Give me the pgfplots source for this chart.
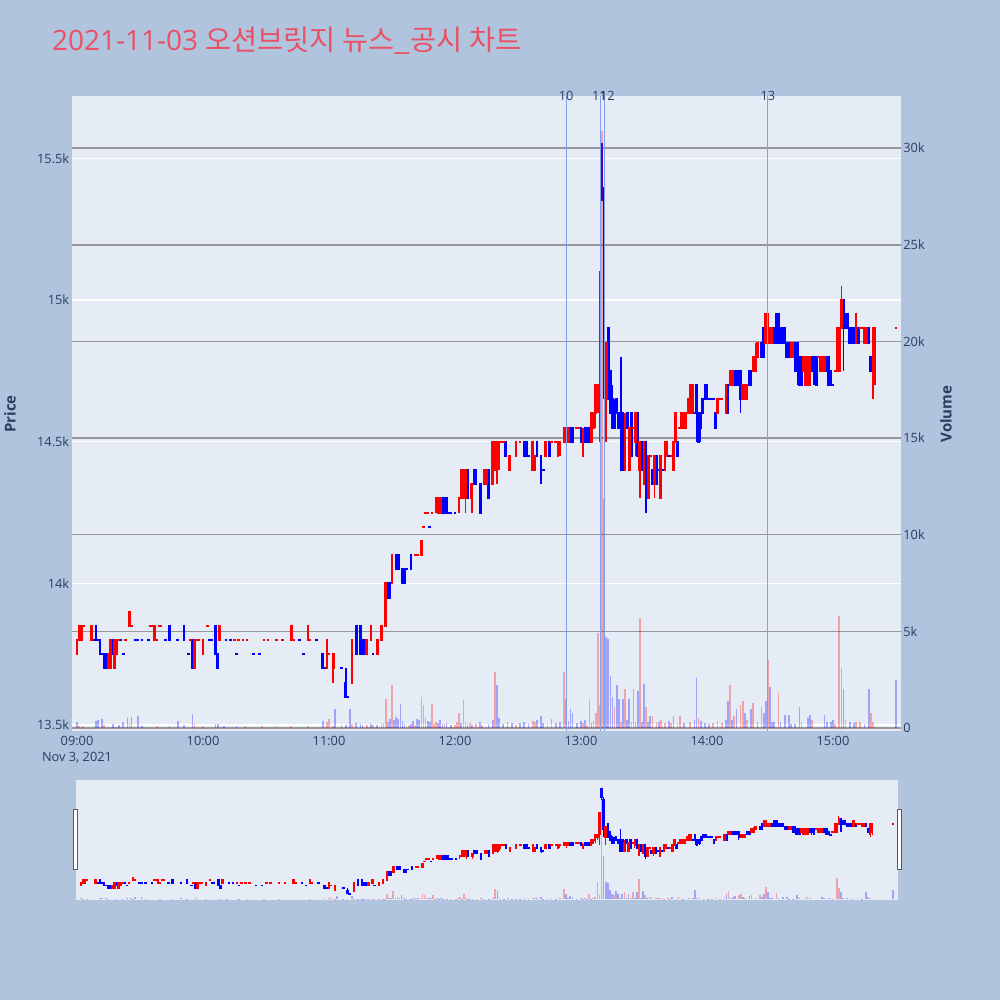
\documentclass[border=0pt]{standalone}
\usepackage{pgfplots}
\pgfplotsset{compat=1.18}
\usepackage{pgfplotstable}
\usepackage{fontspec}
\setmainfont{Open Sans}
\newfontfamily\cjk{Noto Sans CJK KR}
\definecolor{bgc}{RGB}{176,196,222}
\definecolor{plotbg}{RGB}{229,236,246}
\definecolor{tickc}{RGB}{42,63,95}
\definecolor{gridg}{RGB}{150,150,155}
\definecolor{vline}{RGB}{130,160,240}
\definecolor{titlec}{RGB}{235,80,100}
\definecolor{upc}{RGB}{255,0,0}
\definecolor{dnc}{RGB}{0,0,255}

% rising candles (red)
\pgfplotstableread{
m o h l c
0 13750 13800 13750 13800
1 13800 13850 13800 13850
2 13800 13850 13800 13850
3 13850 13850 13850 13850
7 13800 13850 13800 13850
15 13700 13750 13700 13750
16 13700 13800 13700 13800
18 13700 13800 13700 13800
19 13750 13800 13750 13800
20 13800 13800 13800 13800
23 13800 13800 13800 13800
25 13850 13900 13850 13900
26 13850 13850 13850 13850
35 13850 13850 13850 13850
36 13850 13850 13850 13850
37 13800 13850 13800 13850
38 13800 13800 13800 13800
39 13850 13850 13850 13850
40 13850 13850 13850 13850
54 13800 13800 13800 13800
56 13700 13800 13700 13800
57 13800 13800 13800 13800
58 13800 13800 13800 13800
60 13750 13800 13750 13800
62 13850 13850 13850 13850
68 13800 13850 13800 13850
75 13800 13800 13800 13800
77 13800 13800 13800 13800
79 13800 13800 13800 13800
81 13800 13800 13800 13800
89 13800 13800 13800 13800
91 13800 13800 13800 13800
95 13800 13800 13800 13800
98 13800 13800 13800 13800
102 13800 13850 13800 13850
103 13800 13800 13800 13800
110 13800 13850 13800 13850
111 13800 13800 13800 13800
119 13700 13800 13700 13800
120 13750 13750 13750 13750
122 13700 13750 13650 13750
131 13650 13800 13650 13800
138 13750 13800 13750 13800
140 13800 13850 13800 13850
143 13750 13800 13750 13800
145 13800 13850 13800 13850
147 13850 14000 13850 14000
150 14000 14100 14000 14100
161 14100 14100 14100 14100
162 14100 14100 14100 14100
164 14100 14150 14100 14150
165 14200 14200 14200 14200
166 14250 14250 14250 14250
167 14250 14250 14250 14250
169 14250 14250 14250 14250
171 14300 14300 14250 14300
172 14250 14300 14250 14300
173 14250 14300 14250 14300
182 14300 14300 14250 14300
183 14300 14400 14300 14400
184 14300 14400 14300 14400
185 14300 14400 14250 14400
188 14300 14350 14250 14350
194 14350 14400 14350 14400
195 14350 14400 14350 14400
198 14350 14500 14350 14500
199 14400 14500 14400 14500
200 14400 14500 14350 14500
201 14450 14500 14400 14500
202 14500 14500 14500 14500
203 14500 14500 14500 14500
206 14400 14450 14400 14450
209 14450 14500 14450 14500
211 14500 14500 14500 14500
217 14400 14500 14400 14500
218 14400 14450 14400 14450
223 14450 14500 14450 14500
226 14500 14500 14500 14500
228 14500 14500 14500 14500
229 14450 14500 14450 14500
230 14500 14500 14450 14500
232 14500 14550 14500 14550
233 14500 14550 14450 14550
234 14500 14550 14500 14550
238 14550 14550 14550 14550
239 14550 14550 14550 14550
241 14450 14550 14450 14500
245 14500 14600 14500 14600
246 14550 14600 14550 14600
247 14600 14700 14550 14700
248 14650 14700 14600 14700
249 14700 15100 14500 15100
252 14650 14850 14500 14850
261 14400 14600 14400 14550
263 14400 14550 14400 14550
265 14550 14550 14550 14550
266 14500 14600 14450 14600
268 14400 14500 14300 14500
270 14350 14500 14350 14500
272 14300 14450 14300 14450
273 14450 14450 14450 14450
275 14350 14450 14300 14450
278 14300 14450 14300 14450
280 14400 14500 14400 14500
281 14450 14500 14450 14500
283 14450 14450 14450 14450
284 14400 14500 14400 14500
285 14500 14600 14500 14600
287 14550 14550 14550 14550
288 14550 14600 14550 14600
289 14550 14600 14550 14600
290 14550 14600 14550 14600
291 14600 14650 14600 14650
292 14600 14700 14600 14700
293 14600 14700 14600 14700
305 14600 14650 14600 14650
306 14650 14650 14650 14650
307 14650 14650 14650 14650
309 14600 14700 14600 14700
311 14700 14750 14700 14750
312 14700 14750 14700 14750
317 14650 14700 14650 14700
318 14650 14700 14650 14700
319 14650 14700 14650 14700
322 14750 14800 14750 14800
323 14750 14850 14750 14800
324 14800 14850 14800 14850
328 14850 14950 14850 14950
329 14850 14950 14850 14950
330 14850 14900 14850 14900
331 14850 14900 14850 14900
340 14800 14850 14800 14850
341 14800 14850 14800 14850
346 14750 14800 14750 14800
347 14700 14800 14700 14800
348 14700 14800 14700 14800
349 14700 14800 14700 14800
353 14800 14800 14800 14800
354 14750 14800 14750 14800
355 14750 14800 14750 14800
356 14750 14800 14750 14800
361 14750 14750 14750 14750
362 14750 14900 14750 14900
363 14750 14900 14750 14900
364 14900 15050 14900 15000
371 14850 14950 14850 14950
373 14900 14900 14900 14900
374 14900 14900 14900 14900
375 14850 14900 14850 14900
376 14850 14900 14850 14900
379 14700 14900 14650 14900
380 14750 14900 14700 14900
390 14900 14900 14900 14900
}\upt

% falling candles (blue)
\pgfplotstableread{
m o h l c
8 13800 13800 13800 13800
9 13850 13850 13800 13800
10 13800 13800 13800 13800
11 13800 13800 13750 13750
12 13750 13750 13750 13750
13 13750 13750 13700 13700
14 13750 13750 13700 13700
17 13800 13800 13750 13750
21 13800 13800 13800 13800
22 13750 13750 13750 13750
28 13800 13800 13800 13800
29 13800 13800 13800 13800
31 13800 13800 13800 13800
34 13800 13800 13800 13800
42 13800 13800 13800 13800
44 13850 13850 13800 13800
48 13800 13800 13800 13800
51 13850 13850 13800 13800
53 13750 13750 13750 13750
55 13800 13800 13700 13700
63 13800 13800 13800 13800
64 13800 13800 13800 13800
66 13850 13850 13750 13750
67 13750 13750 13700 13700
71 13800 13800 13800 13800
73 13800 13800 13800 13800
76 13750 13750 13750 13750
84 13750 13750 13750 13750
87 13750 13750 13750 13750
106 13800 13800 13800 13800
108 13750 13750 13750 13750
114 13800 13800 13800 13800
117 13750 13750 13700 13700
118 13700 13700 13700 13700
126 13700 13700 13700 13700
128 13650 13700 13600 13600
129 13600 13600 13600 13600
133 13850 13850 13750 13750
135 13850 13850 13750 13750
136 13800 13800 13750 13750
137 13800 13800 13750 13750
141 13750 13750 13750 13750
148 14000 14000 13950 13950
149 14000 14000 13950 13950
152 14100 14100 14050 14050
153 14100 14100 14050 14050
155 14050 14050 14000 14000
156 14050 14050 14000 14000
157 14050 14050 14050 14050
159 14100 14100 14050 14050
168 14200 14200 14200 14200
174 14300 14300 14250 14250
175 14300 14300 14250 14250
176 14300 14300 14250 14250
177 14250 14250 14250 14250
178 14250 14250 14250 14250
180 14250 14250 14250 14250
186 14400 14400 14300 14300
189 14400 14400 14350 14350
190 14400 14400 14350 14350
192 14350 14350 14250 14250
196 14400 14400 14300 14300
204 14500 14500 14450 14450
213 14500 14500 14450 14450
214 14500 14500 14450 14450
215 14450 14450 14450 14450
219 14500 14500 14450 14450
221 14450 14450 14350 14400
222 14400 14400 14400 14400
225 14500 14500 14450 14450
235 14550 14550 14500 14500
236 14550 14550 14500 14500
240 14550 14550 14500 14500
242 14550 14550 14500 14500
243 14550 14550 14500 14500
244 14550 14550 14500 14500
250 15550 15550 15350 15400
251 15350 15400 14650 14800
253 14900 14900 14650 14650
254 14750 14750 14600 14600
255 14650 14700 14550 14550
256 14600 14650 14550 14550
257 14650 14650 14600 14600
258 14600 14600 14550 14550
259 14600 14800 14400 14400
260 14600 14600 14400 14400
262 14600 14600 14550 14550
264 14600 14600 14450 14450
267 14600 14600 14450 14450
269 14500 14500 14400 14400
271 14500 14500 14250 14300
274 14400 14400 14350 14350
276 14450 14450 14350 14350
277 14400 14400 14400 14400
279 14400 14400 14400 14400
282 14450 14450 14450 14450
286 14500 14500 14450 14450
294 14600 14600 14600 14600
295 14700 14700 14500 14600
296 14600 14600 14500 14500
297 14600 14600 14500 14550
298 14650 14650 14600 14600
299 14700 14700 14650 14650
300 14700 14700 14650 14650
301 14650 14650 14650 14650
302 14650 14650 14650 14650
303 14650 14650 14650 14650
304 14600 14600 14550 14550
310 14700 14700 14600 14600
313 14750 14750 14700 14700
314 14750 14750 14700 14700
315 14750 14750 14700 14700
316 14750 14750 14600 14650
320 14750 14750 14700 14700
321 14750 14750 14700 14700
326 14850 14850 14800 14800
327 14900 14900 14800 14800
332 14900 14900 14850 14850
333 14950 14950 14850 14850
334 14950 14950 14850 14850
335 14900 14900 14850 14850
336 14900 14900 14850 14850
337 14900 14900 14850 14850
338 14850 14850 14800 14800
339 14850 14850 14800 14800
342 14850 14850 14750 14750
343 14850 14850 14700 14750
344 14800 14800 14700 14700
345 14800 14800 14700 14700
350 14800 14800 14750 14750
351 14800 14800 14700 14750
352 14800 14800 14700 14700
357 14800 14800 14750 14750
358 14800 14800 14700 14700
359 14750 14750 14700 14700
360 14700 14700 14700 14700
365 15000 15000 14750 14900
366 14950 14950 14900 14900
367 14950 14950 14900 14900
368 14900 14900 14850 14850
369 14900 14900 14850 14850
370 14900 14900 14850 14850
372 14900 14900 14850 14850
377 14900 14900 14850 14850
378 14800 14800 14750 14750
}\dnt

\pgfplotstableread{
m v
1 100
3 100
13 150
25 250
38 100
56 250
60 100
80 80
88 80
95 80
102 100
110 80
119 300
120 450
122 100
131 200
138 150
141 150
145 200
146 250
147 1500
150 2200
158 150
161 150
164 1600
165 1200
166 550
169 1250
170 200
171 300
175 200
180 150
181 300
182 800
184 1450
185 300
187 250
190 200
193 150
199 2900
209 150
217 350
218 300
224 200
226 450
232 2900
241 250
243 150
244 1500
246 350
247 800
248 4900
249 1200
250 30900
256 1100
259 300
261 2000
264 300
265 2000
268 5700
271 1100
274 600
276 300
278 400
280 250
283 250
286 250
287 600
292 300
296 500
303 250
305 350
307 250
311 2200
313 600
316 1200
317 1400
319 400
322 1300
326 1100
329 3500
334 1800
345 300
350 400
361 200
363 5800
364 3100
366 400
371 300
373 300
378 800
379 300
}\upv

\pgfplotstableread{
m v
0 300
9 350
10 400
12 450
17 200
20 150
22 300
24 500
26 550
29 600
31 100
44 100
48 350
51 150
55 750
66 200
67 200
70 100
76 100
117 350
123 1000
126 150
128 150
130 1000
133 250
135 200
136 150
140 200
143 150
148 300
149 450
151 400
152 550
153 450
154 1250
155 350
156 200
159 200
160 350
162 450
163 400
167 350
168 300
172 250
173 400
174 200
176 250
178 150
183 250
186 200
188 150
192 300
196 200
198 400
200 2200
201 500
203 200
205 300
207 250
211 250
213 300
215 200
219 400
221 600
222 250
228 250
230 300
233 1500
234 350
235 1000
236 800
238 250
240 350
242 400
245 250
251 11900
252 4700
253 4600
254 2700
255 1600
257 2200
258 1500
260 1500
262 400
263 1500
266 300
267 1900
269 300
270 2300
272 300
273 600
277 300
282 350
284 600
289 250
294 400
295 2600
297 350
299 250
301 200
309 400
310 1400
312 400
314 1000
318 800
321 1000
324 300
327 800
328 1400
330 2100
331 300
332 300
335 300
337 650
339 650
340 200
342 200
344 1100
348 500
349 650
356 650
357 300
359 300
360 400
365 2000
368 300
370 250
375 200
377 2000
390 2500
}\dnv

\pgfplotsset{
  mainpos/.style={at={(36pt,134.5pt)}, anchor=south west, width=414.5pt, height=317.5pt},
  slidepos/.style={at={(38pt,50pt)}, anchor=south west, width=411pt, height=60pt},
  common/.style={scale only axis, xmin=-2.4, xmax=392.4, axis line style={draw=none},
    scaled ticks=false,
    major tick length=0pt, tick label style={font=\fontsize{6.4}{7.5}\selectfont, text=tickc}},
  pax/.style={ymin=13479, ymax=15720},
  vax/.style={ymin=-155, ymax=32700},
}

% #1 colour, #2 table, #3 body pad, #4 body width, #5 wick width, #6 pt per won / 2
\newcommand{\candleset}[6]{%
  % wicks: a vertical-bar mark whose half length is set from (high-low)
  \addplot[scatter, only marks, mark=|, forget plot,
    scatter/use mapped color={draw=#1, fill=#1},
    visualization depends on={\thisrow{h}-\thisrow{l} \as \rng},
    scatter/@pre marker code/.append style={/tikz/mark size={#6*\rng}},
    mark options={line width=#5, solid}]
    table[x=m, y expr={(\thisrow{h}+\thisrow{l})/2}] {#2};
  % bodies: error bars from open to close
  \addplot[color=#1, draw=none, mark=none, forget plot,
    error bars/.cd, y dir=both, y explicit, error mark=none,
    error bar style={color=#1, solid, line width=#4}]
    table[x=m, y expr={(\thisrow{o}+\thisrow{c})/2}, y error expr={abs(\thisrow{c}-\thisrow{o})/2+#3}] {#2};
}
\newcommand{\volset}[2]{%
  \addplot[ycomb, draw=#1, draw opacity=0.3, line width=0.85pt, mark=none, forget plot]
    table[x=m, y=v] {#2};
}

\begin{document}
\begin{tikzpicture}
\fill[bgc] (0,0) rectangle (500pt,500pt);

% ---------- main chart: background + volume grid
\begin{axis}[common, mainpos, vax,
  axis background/.style={fill=plotbg},
  xtick=\empty,
  ytick={0,5000,10000,15000,20000,25000,30000},
  yticklabels={0,5k,10k,15k,20k,25k,30k},
  yticklabel pos=right,
  yticklabel style={anchor=west, inner sep=1pt},
  ymajorgrids, grid style={draw=gridg, line width=0.75pt}]
\end{axis}

% ---------- main chart: price
\begin{axis}[common, mainpos, pax,
  ytick={13500,14000,14500,15000,15500},
  yticklabels={13.5k,14k,14.5k,15k,15.5k},
  yticklabel style={anchor=east, inner sep=1.2pt},
  xtick={0,60,120,180,240,300,360},
  xticklabels={09:00,10:00,11:00,12:00,13:00,14:00,15:00},
  xticklabel style={anchor=north, inner sep=1.5pt, yshift=-1pt},
  ymajorgrids, grid style={draw=white, line width=0.6pt}]
\candleset{dnc}{\dnt}{3.5}{1.35pt}{0.75pt}{0.07084}
\candleset{upc}{\upt}{3.5}{1.35pt}{0.75pt}{0.07084}
\end{axis}

% ---------- main chart: volume bars, marker lines and their labels
\begin{axis}[common, mainpos, vax, hide axis, clip=false]
\volset{upc}{\upv}
\volset{dnc}{\dnv}
\addplot[vline, line width=0.5pt] coordinates {(232.9,-155) (232.9,32700)};
\addplot[vline, line width=0.5pt] coordinates {(249.5,-155) (249.5,32700)};
\addplot[vline, line width=0.5pt] coordinates {(251.4,-155) (251.4,32700)};
\addplot[vline, line width=0.5pt] coordinates {(329,-155) (329,32700)};
\node[font=\fontsize{6.4}{7.5}\selectfont, text=tickc] at (axis cs:232.9,32700) {10};
\node[font=\fontsize{6.4}{7.5}\selectfont, text=tickc] at (axis cs:248.8,32700) {11};
\node[font=\fontsize{6.4}{7.5}\selectfont, text=tickc] at (axis cs:252.6,32700) {12};
\node[font=\fontsize{6.4}{7.5}\selectfont, text=tickc] at (axis cs:329,32700) {13};
\end{axis}

% ---------- range slider
\begin{axis}[common, slidepos, pax, axis background/.style={fill=plotbg},
  xtick=\empty, ytick=\empty]
\candleset{dnc}{\dnt}{16}{1.2pt}{0.55pt}{0.013387}
\candleset{upc}{\upt}{16}{1.2pt}{0.55pt}{0.013387}
\end{axis}
\begin{axis}[common, slidepos, vax, hide axis]
\volset{upc}{\upv}
\volset{dnc}{\dnv}
\end{axis}
\draw[fill=white, draw=black!65, line width=0.5pt] (36.5pt,65pt) rectangle (38.5pt,95pt);
\draw[fill=white, draw=black!65, line width=0.5pt] (448.5pt,65pt) rectangle (450.5pt,95pt);

% ---------- texts
\node[anchor=base west, inner sep=0, text=titlec] at (25.8pt,474.6pt)
  {\fontsize{14}{16}\selectfont 2021-11-03 {\cjk\fontsize{14.2}{16}\selectfont 오션브릿지 뉴스\_공시 차트}};
\node[rotate=90, text=tickc, font=\bfseries\fontsize{7.5}{9}\selectfont] at (5pt,293pt) {Price};
\node[rotate=90, text=tickc, font=\bfseries\fontsize{7.5}{9}\selectfont] at (473pt,293pt) {Volume};
\node[text=tickc, font=\fontsize{6.4}{7.5}\selectfont] at (38.5pt,121pt) {Nov 3, 2021};

\pgfresetboundingbox
\path (0,0) rectangle (500pt,500pt);
\end{tikzpicture}
\end{document}
